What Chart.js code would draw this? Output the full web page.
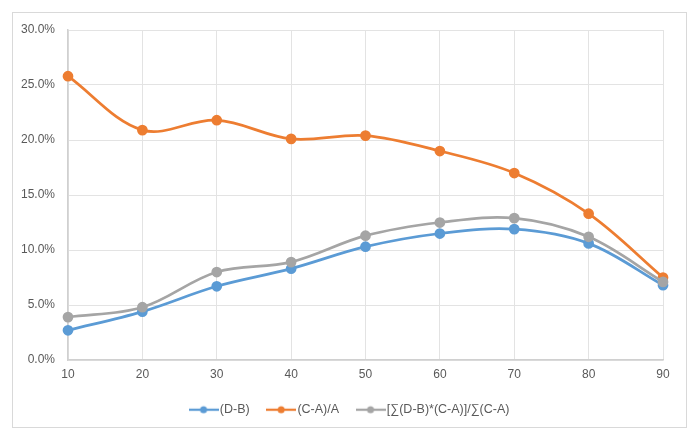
<!DOCTYPE html>
<html>
<head>
<meta charset="utf-8">
<script src="https://cdn.jsdelivr.net/npm/chart.js@4.4.0/dist/chart.umd.min.js"></script>
<style>
  html, body { margin: 0; padding: 0; background: #ffffff; }
  #wrap { position: relative; width: 695px; height: 434px; }
  #frame { position: absolute; left: 12px; top: 12px; width: 675px; height: 416px; border: 1px solid #d9d9d9; box-sizing: border-box; pointer-events: none; }
  canvas { position: absolute; left: 0; top: 0; }
</style>
</head>
<body>
<div id="wrap">
  <canvas id="c" width="695" height="434"></canvas>
  <div id="frame"></div>
</div>
<script>
const categories = ['10', '20', '30', '40', '50', '60', '70', '80', '90'];
const dbValues = [2.7, 4.4, 6.7, 8.3, 10.3, 11.5, 11.9, 10.6, 6.8];
const caValues = [25.8, 20.9, 21.8, 20.1, 20.4, 19.0, 17.0, 13.3, 7.5];
const weightedValues = [3.9, 4.8, 8.0, 8.9, 11.3, 12.5, 12.9, 11.2, 7.1];
const seriesNames = ['(D-B)', '(C-A)/A', '[\u2211(D-B)*(C-A)]/\u2211(C-A)'];
const yTickValues = [0, 5, 10, 15, 20, 25, 30];

const colors = ['#5B9BD5', '#ED7D31', '#A5A5A5'];

function legendIcon(color) {
  const cv = document.createElement('canvas');
  cv.width = 30; cv.height = 10;
  const g = cv.getContext('2d');
  g.strokeStyle = color; g.lineWidth = 2.25;
  g.beginPath(); g.moveTo(0, 5); g.lineTo(30, 5); g.stroke();
  g.fillStyle = color;
  g.beginPath(); g.arc(15, 5, 3.5, 0, Math.PI * 2); g.fill();
  return cv;
}

Chart.defaults.font.family = '"Liberation Sans", Arial, sans-serif';
Chart.defaults.font.size = 12;
Chart.defaults.color = '#595959';

const allSeries = [dbValues, caValues, weightedValues];
const orders = [3, 2, 1];

const legendShift = {
  id: 'legendShift',
  afterLayout(chart) {
    if (chart.legend) {
      chart.legend.left += 14;
      chart.legend.right += 14;
    }
  }
};

new Chart(document.getElementById('c'), {
  type: 'line',
  data: {
    labels: categories,
    datasets: allSeries.map((vals, i) => ({
      label: seriesNames[i],
      data: vals,
      borderColor: colors[i],
      backgroundColor: colors[i],
      pointBackgroundColor: colors[i],
      pointBorderColor: colors[i],
      borderWidth: 2.75,
      pointRadius: 4,
      pointHoverRadius: 4,
      tension: 0.35,
      fill: false,
      order: orders[i]
    }))
  },
  plugins: [legendShift],
  options: {
    responsive: false,
    animation: false,
    devicePixelRatio: 1,
    layout: { padding: { top: 30, right: 32, left: 12, bottom: 8 } },
    scales: {
      x: {
        type: 'category',
        offset: false,
        grid: { color: '#e3e3e3', lineWidth: 1, drawTicks: false },
        border: { color: '#d0d0d0', width: 1.5 },
        ticks: { padding: 7, color: '#595959', font: { size: 12 } },
        afterFit: s => { s.height = 22; }
      },
      y: {
        min: 0, max: 30,
        afterBuildTicks: s => { s.ticks = yTickValues.map(v => ({ value: v })); },
        grid: { color: '#e3e3e3', lineWidth: 1, drawTicks: false },
        border: { color: '#d0d0d0', width: 1.5 },
        ticks: { padding: 13, color: '#595959', callback: v => v.toFixed(1) + '%' },
        afterFit: s => { s.width = 56; }
      }
    },
    plugins: {
      tooltip: { enabled: false },
      legend: {
        position: 'bottom',
        labels: {
          usePointStyle: true,
          pointStyleWidth: 20,
          padding: 21.5,
          color: '#595959',
          font: { size: 12.5 },
          generateLabels: chart => chart.data.datasets.map((ds, i) => ({
            text: ds.label,
            fillStyle: colors[i],
            strokeStyle: colors[i],
            lineWidth: 0,
            pointStyle: legendIcon(colors[i]),
            hidden: !chart.isDatasetVisible(i),
            datasetIndex: i,
            fontColor: '#595959'
          }))
        }
      }
    }
  }
});
</script>
</body>
</html>
